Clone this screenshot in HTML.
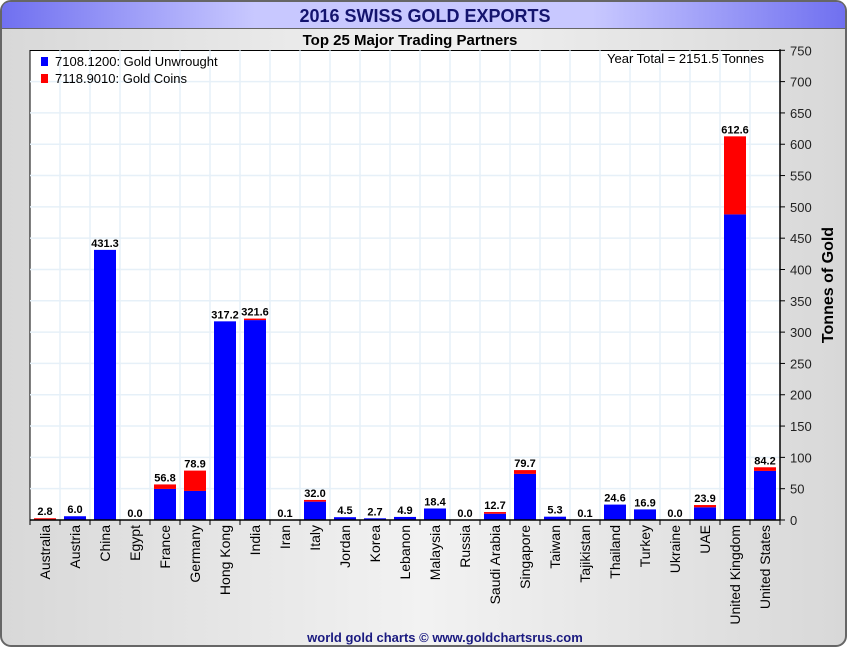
<!DOCTYPE html>
<html><head><meta charset="utf-8">
<style>
html,body{margin:0;padding:0;background:#fff;}
body{width:850px;height:650px;overflow:hidden;font-family:"Liberation Sans",sans-serif;}
</style></head>
<body>
<svg id="chart" width="850" height="650" xmlns="http://www.w3.org/2000/svg">
<defs>
<linearGradient id="bg" x1="0" y1="0" x2="1" y2="0">
<stop offset="0" stop-color="#d8d8d8"/><stop offset="0.5" stop-color="#f2f2f2"/><stop offset="1" stop-color="#d8d8d8"/>
</linearGradient>
<linearGradient id="hd" x1="0" y1="0" x2="1" y2="0">
<stop offset="0" stop-color="#7070f0"/><stop offset="0.3" stop-color="#c8c8ff"/><stop offset="0.7" stop-color="#c8c8ff"/><stop offset="1" stop-color="#7070f0"/>
</linearGradient>
</defs>
<rect x="1" y="1" width="845" height="645" rx="10" fill="url(#bg)" stroke="#666" stroke-width="2"/>
<path d="M2,28 L2,11 Q2,2 11,2 L836,2 Q845,2 845,11 L845,28 Z" fill="url(#hd)"/>
<line x1="2" y1="28.5" x2="845" y2="28.5" stroke="#666"/>
<text x="425" y="22" text-anchor="middle" font-size="18" font-weight="bold" fill="#14146e">2016 SWISS GOLD EXPORTS</text>
<text x="410" y="45" text-anchor="middle" font-size="15" font-weight="bold" fill="#000">Top 25 Major Trading Partners</text>
<rect x="30" y="50.5" width="750" height="469.5" fill="#fff" stroke="#000"/>
<g id="grid"></g>
<g id="bars"></g>
<g id="axes"></g>
<rect x="41" y="57" width="7" height="9" fill="#0000ff"/>
<text x="55" y="66" font-size="13" fill="#000">7108.1200: Gold Unwrought</text>
<rect x="41" y="74" width="7" height="9" fill="#ff0000"/>
<text x="55" y="83" font-size="13" fill="#000">7118.9010: Gold Coins</text>
<text x="764" y="63" text-anchor="end" font-size="13" fill="#000">Year Total = 2151.5 Tonnes</text>
<text transform="translate(833,285) rotate(-90)" text-anchor="middle" font-size="16" font-weight="bold" fill="#000">Tonnes of Gold</text>
<text x="445" y="642" text-anchor="middle" font-size="13" font-weight="bold" fill="#1a1a80">world gold charts © www.goldchartsrus.com</text>
</svg>
<script>
const categories=["Australia","Austria","China","Egypt","France","Germany","Hong Kong","India","Iran","Italy","Jordan","Korea","Lebanon","Malaysia","Russia","Saudi Arabia","Singapore","Taiwan","Tajikistan","Thailand","Turkey","Ukraine","UAE","United Kingdom","United States"];
const unwrought=[0,6.0,431.3,0,49.6,46.4,317.2,319.2,0.1,29.3,4.5,2.7,4.9,18.4,0,10.0,73.6,5.3,0.1,24.6,16.9,0,20.3,488.0,78.4];
const coins=[2.8,0,0,0,7.2,32.5,0,2.4,0,2.7,0,0,0,0,0,2.7,6.1,0,0,0,0,0,3.6,124.6,5.8];
const totalLabels=["2.8","6.0","431.3","0.0","56.8","78.9","317.2","321.6","0.1","32.0","4.5","2.7","4.9","18.4","0.0","12.7","79.7","5.3","0.1","24.6","16.9","0.0","23.9","612.6","84.2"];
const yTicks=[0,50,100,150,200,250,300,350,400,450,500,550,600,650,700,750];
const NS="http://www.w3.org/2000/svg";
const X0=30,X1=780,Y0=520,Y1=50.3,YMAX=750;
const bw=(X1-X0)/categories.length;
const yS=v=>Y0-(v/YMAX)*(Y0-Y1);
const xS=i=>X0+i*bw;
function mk(tag,attrs,parent){const e=document.createElementNS(NS,tag);for(const k in attrs)e.setAttribute(k,attrs[k]);parent.appendChild(e);return e;}
const grid=document.getElementById('grid'),bars=document.getElementById('bars'),axes=document.getElementById('axes');
yTicks.forEach(t=>{
  if(t>0&&t<YMAX){const l=mk('line',{x1:X0,x2:X1,y1:yS(t),y2:yS(t),stroke:'#e6f0f8','stroke-width':1.5},grid);
  
  }
  const tk=mk('line',{x1:X1,x2:X1+5,y1:yS(t),y2:yS(t),stroke:'#000'},axes);
  
  
  const tx=mk('text',{x:X1+10,y:yS(t)+5,'font-size':13,fill:'#222'},axes);
  tx.textContent=t;
  
  
});
categories.forEach((c,i)=>{
  if(i>0){const l=mk('line',{x1:xS(i),x2:xS(i),y1:Y1,y2:Y0,stroke:'#e6f0f8','stroke-width':1.5},grid);
  
  }
  const cx=xS(i)+bw/2,w=22;
  const b=mk('rect',{x:cx-w/2,y:yS(unwrought[i]),width:w,height:Y0-yS(unwrought[i]),fill:'#0000ff'},bars);
  
  
  const tot=unwrought[i]+coins[i];
  const r=mk('rect',{x:cx-w/2,y:yS(tot),width:w,height:yS(unwrought[i])-yS(tot),fill:'#ff0000'},bars);
  
  
  const vl=mk('text',{x:cx,y:yS(tot)-3,'text-anchor':'middle','font-size':11,'font-weight':'bold',fill:'#000'},bars);
  vl.textContent=totalLabels[i];
  
  
  const tk=mk('line',{x1:xS(i),x2:xS(i),y1:Y0,y2:Y0+5,stroke:'#000'},axes);
  
  
  const tl=mk('text',{transform:`translate(${cx+5},${Y0+5}) rotate(-90)`,'text-anchor':'end','font-size':14,fill:'#000'},axes);
  tl.textContent=c;
  
  
});
const tkE=mk('line',{x1:X1,x2:X1,y1:Y0,y2:Y0+5,stroke:'#000'},axes);


const ax=mk('line',{x1:X0,x2:X1,y1:Y0,y2:Y0,stroke:'#000','stroke-width':1.5},axes);


const ay=mk('line',{x1:X1,x2:X1,y1:Y1-1,y2:Y0,stroke:'#000','stroke-width':1.5},axes);


</script>
</body></html>
